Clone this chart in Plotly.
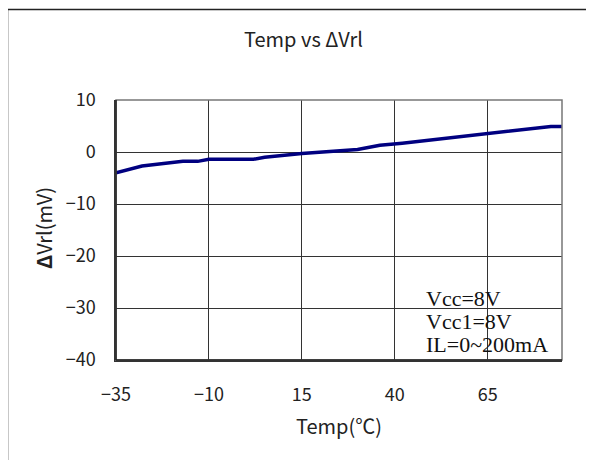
import plotly.graph_objects as go

temp = [-35, -28, -17, -13, -10, 2, 5, 15, 30, 36, 42, 65, 82, 85]
dvrl = [-4.0, -2.7, -1.8, -1.8, -1.4, -1.4, -1.0, -0.3, 0.5, 1.3, 1.7, 3.5, 4.9, 4.9]

x_ticks = [-35, -10, 15, 40, 65]
y_ticks = [-40, -30, -20, -10, 0, 10]

OFF = 8  # page body margin
W, H = 594 - OFF, 460 - OFF
L, R, T, B = 116 - OFF, 562 - OFF, 100 - OFF, 360 - OFF
pw, ph = R - L, B - T

def px(x):
    return (x - OFF - L) / pw

def py(y):
    return (B - (y - OFF)) / ph

fig = go.Figure()
fig.add_trace(go.Scatter(x=temp, y=dvrl, mode="lines",
                         line=dict(color="#000080", width=3.5), showlegend=False))

sans = "Noto Sans CJK KR, Noto Sans, sans-serif"
tick_font = dict(family=sans, size=18, color="#222")
fig.update_layout(
    width=W, height=H,
    margin=dict(l=L, r=W - R, t=T, b=H - B),
    paper_bgcolor="white", plot_bgcolor="white",
    xaxis=dict(range=[-35, 85], tickvals=x_ticks, ticktext=[str(v).replace("-", "\u2212") for v in x_ticks],
               showgrid=True, gridcolor="#333", gridwidth=1, zeroline=False,
               showline=True, linecolor="#333", linewidth=1.5, mirror=False,
               ticks="outside", ticklen=18, tickcolor="rgba(0,0,0,0)", tickfont=tick_font),
    yaxis=dict(range=[-40, 10], tickvals=y_ticks, ticktext=[str(v).replace("-", "\u2212") for v in y_ticks],
               showgrid=True, gridcolor="#333", gridwidth=1, zeroline=False,
               showline=True, linecolor="#333", linewidth=1.5, mirror=False,
               ticks="outside", ticklen=15, tickcolor="rgba(0,0,0,0)", tickfont=tick_font),
)

# plot frame top/right (gray)
fig.add_shape(type="rect", xref="paper", yref="paper", x0=0, y0=0, x1=1, y1=1,
              line=dict(color="#777", width=1.5), layer="above")
fig.add_shape(type="line", xref="paper", yref="paper", x0=0, y0=0, x1=0, y1=1,
              line=dict(color="#222", width=1.5), layer="above")
fig.add_shape(type="line", xref="paper", yref="paper", x0=0, y0=0, x1=1, y1=0,
              line=dict(color="#222", width=1.5), layer="above")

# outer frame (cut off at right and bottom)
fig.add_shape(type="rect", xref="paper", yref="paper",
              x0=px(7.5), y0=py(480), x1=px(620), y1=py(9.5),
              line=dict(color="#222", width=1.5))

label_font = dict(family=sans, size=20, color="#222")
fig.add_annotation(text="Temp vs \u0394Vrl", xref="paper", yref="paper",
                   x=px(303), y=py(39), showarrow=False, font=label_font,
                   xanchor="center", yanchor="middle")
fig.add_annotation(text="<b>\u0394</b>Vrl(mV)", xref="paper", yref="paper",
                   x=px(43), y=py(228), showarrow=False, font=label_font, textangle=-90,
                   xanchor="center", yanchor="middle")
fig.add_annotation(text="Temp(\u2103)", xref="paper", yref="paper",
                   x=px(339), y=py(425), showarrow=False, font=label_font,
                   xanchor="center", yanchor="middle")

notes = ["Vcc=8V", "Vcc1=8V", "IL=0~200mA"]
note_y = [298, 321, 344]
for t, yy in zip(notes, note_y):
    fig.add_annotation(text=t, xref="paper", yref="paper", x=px(424), y=py(yy),
                       showarrow=False, xanchor="left", yanchor="middle",
                       font=dict(family="Liberation Serif, Times New Roman, serif", size=22, color="#111"))

fig.write_html("out.html")
